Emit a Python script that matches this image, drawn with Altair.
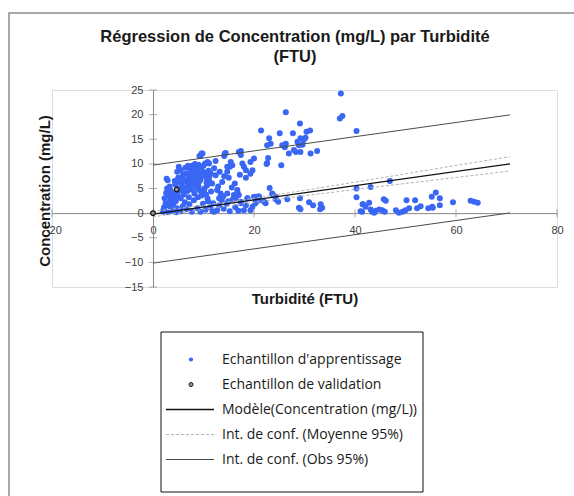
import altair as alt
import pandas as pd

# Learning sample: Turbidité (FTU) vs Concentration (mg/L)
train_x = [
    2.0, 2.2, 2.5, 2.3, 2.6, 2.8, 2.1, 3.0, 3.2, 3.4, 3.1, 3.5, 3.3, 2.9, 3.8, 4.0, 4.2, 3.9, 4.4, 4.6,
    4.8, 4.5, 5.0, 4.9, 2.7,
    5.1, 5.5, 4.8, 5.3, 5.8, 6.0, 6.2, 6.5, 6.8, 7.0, 7.2, 7.5, 7.8, 8.0, 8.2, 8.4, 8.6, 8.8, 9.0, 9.2,
    9.4, 9.6, 9.8, 10.0, 10.2, 10.4, 10.6, 10.8, 11.1, 10.3, 9.6, 9.2, 9.8, 9.4, 6.4, 7.3, 8.3, 7.6, 6.1, 5.6,
    9.0, 10.6, 11.0, 8.9, 7.1,
    3.6, 4.1, 4.7, 5.2, 5.7, 6.3, 6.9, 7.4, 7.9, 8.5, 9.1, 9.7, 10.1, 10.7, 11.2,
    3.0, 3.7, 4.3, 5.5, 6.6, 7.6, 8.7, 9.3, 10.5, 6.0, 6.9, 7.7, 8.4, 9.5, 5.0,
    5.4, 5.9, 6.3, 6.7, 7.2, 7.7, 8.1, 8.8, 9.4, 9.9, 10.4, 10.9, 11.3, 11.8, 12.1, 12.7, 13.1, 13.6, 14.0,
    14.6, 15.2, 15.8, 16.3, 16.9, 17.4, 18.0, 18.4, 18.7, 19.3, 19.7, 20.3, 21.0,
    12.1, 11.4, 12.4, 11.1, 11.7, 12.4, 14.2, 14.1, 14.4, 17.0, 17.4, 17.4, 15.4, 15.7, 15.2, 14.7, 19.3,
    17.7, 18.0, 18.4, 19.3, 18.4, 19.7, 14.7, 14.1, 15.0, 13.7, 12.7, 13.4, 13.1, 14.7, 16.0, 16.7, 16.4,
    17.4, 18.7, 20.0, 16.7, 17.0, 20.0, 11.5, 12.9, 13.2, 16.2, 17.2, 15.6, 10.8, 11.9, 13.9, 14.9,
    21.4, 23.0, 22.6, 23.3, 22.8, 22.6, 22.5, 23.6, 24.3, 22.0, 23.1, 23.8, 24.8, 22.3, 20.8,
    37.2, 37.5, 37.0, 26.3, 29.1, 40.3, 25.1, 27.7, 30.4, 31.1, 29.2, 29.8, 30.2, 28.6, 28.9, 29.6,
    25.6, 26.3, 26.1, 26.9, 27.9, 28.3, 29.2, 31.2, 32.5, 25.4,
    21.0, 20.3, 24.3, 26.6, 29.1, 28.9, 29.2, 30.9, 31.7, 33.2, 33.5, 33.1,
    40.3, 40.3, 41.5, 41.1, 46.9, 43.1, 41.6, 42.8, 42.1, 41.4, 43.1, 43.4, 44.1, 44.8, 43.8, 45.4, 45.9,
    45.7, 46.1, 48.1, 48.7, 49.4, 50.0, 50.7, 50.2, 51.9, 52.3, 53.0, 54.5, 55.3, 55.2, 56.0, 56.8, 56.8,
    59.4, 62.9, 63.6, 64.3, 55.4,
]
train_y = [
    0.3, 1.2, 2.0, 3.0, 4.1, 5.0, 0.8, 0.2, 1.5, 2.6, 3.6, 4.6, 5.4, 6.7, 0.5, 1.8, 3.0, 4.0, 5.8, 0.2,
    1.0, 2.4, 3.4, 4.4, 7.0,
    9.4, 8.7, 8.4, 6.2, 7.4, 5.2, 6.6, 8.0, 4.5, 7.0, 5.8, 6.4, 8.6, 7.4, 4.0, 6.0, 9.0, 7.8, 5.4, 8.4,
    6.8, 3.6, 7.6, 9.6, 5.0, 8.2, 6.2, 10.4, 10.1, 10.1, 12.1, 11.6, 12.1, 11.6, 9.2, 8.9, 10.0, 4.8, 3.8, 4.6,
    9.8, 7.2, 8.6, 3.2, 3.2,
    1.0, 2.2, 3.8, 5.0, 6.0, 4.8, 6.0, 7.8, 5.8, 7.0, 6.3, 8.6, 4.3, 5.6, 7.6,
    4.2, 3.3, 6.5, 3.0, 5.0, 7.0, 5.0, 4.6, 3.8, 7.8, 9.6, 9.6, 8.0, 9.0, 7.2,
    0.4, 1.4, 2.2, 0.8, 1.8, 0.3, 2.6, 1.0, 0.3, 1.9, 0.7, 2.4, 1.2, 0.4, 0.3, 0.6, 1.6, 2.6, 0.9,
    1.9, 0.4, 2.8, 1.2, 0.5, 2.0, 0.6, 1.6, 3.0, 0.6, 1.3, 2.0, 2.6,
    9.1, 8.1, 7.7, 6.7, 6.0, 10.6, 12.1, 11.6, 12.2, 12.4, 11.8, 12.6, 10.4, 9.7, 9.4, 9.4, 10.4,
    10.1, 9.4, 8.7, 8.0, 7.2, 8.7, 8.4, 7.5, 7.2, 6.3, 4.7, 4.0, 3.0, 4.0, 3.7, 4.7, 3.0,
    2.3, 3.0, 3.3, 4.3, 3.7, 11.1, 4.4, 5.4, 8.4, 6.0, 7.8, 5.2, 3.0, 2.0, 3.4, 2.4,
    16.8, 15.2, 13.8, 14.1, 11.2, 10.2, 10.0, 4.0, 3.3, 2.3, 5.1, 3.7, 2.3, 2.0, 3.4,
    24.3, 19.7, 19.2, 20.5, 18.2, 16.7, 16.2, 16.2, 16.5, 16.8, 15.2, 14.8, 15.3, 14.5, 13.8, 13.9,
    13.8, 14.1, 13.4, 12.1, 12.8, 12.4, 12.4, 12.1, 12.6, 9.7,
    3.4, 2.6, 2.8, 2.8, 3.0, 1.1, 0.8, 2.2, 1.6, 1.8, 1.1, 0.8,
    5.0, 3.2, 1.8, 0.4, 6.5, 5.3, 1.8, 2.1, 1.3, 0.3, 0.75, 0.3, 0.5, 0.75, 0.1, 0.6, 0.3,
    2.8, 2.5, 0.6, 0.1, 0.3, 0.6, 1.0, 2.6, 2.6, 1.0, 1.4, 1.0, 1.3, 3.3, 4.2, 3.0, 1.6,
    2.2, 2.5, 2.3, 2.1, 1.1,
]

# Validation sample
valid_x = [0.0, 4.7]
valid_y = [0.0, 4.8]

# Fitted model and 95% observation interval (straight lines)
line_x = [0.0, 70.7]
model_y = [-0.2, 10.0]
obs_lo = [-10.15, 0.05]
obs_hi = [9.75, 19.95]

# 95% confidence interval on the mean
mean_x = [0, 10, 20, 30, 40, 50, 60, 70.7]
mean_lo = [-0.75, 0.74, 2.20, 3.53, 4.79, 6.02, 7.24, 8.55]
mean_hi = [0.35, 1.58, 3.04, 4.63, 6.29, 7.98, 9.68, 11.45]

x_ticks = [-20, 0, 20, 40, 60, 80]
y_ticks = [-15, -10, -5, 0, 5, 10, 15, 20, 25]

title_lines = ["Régression de Concentration (mg/L) par Turbidité", "(FTU)"]

legend_labels = [
    "Echantillon d'apprentissage",
    "Echantillon de validation",
    "Modèle(Concentration (mg/L))",
    "Int. de conf. (Moyenne 95%)",
    "Int. de conf. (Obs 95%)",
]

W, H = 505, 197
AXIS_GRAY = "#868686"
BLUE = "#3a66f4"

x_scale = alt.Scale(domain=[-20, 80], nice=False, zero=False)
y_scale = alt.Scale(domain=[-15, 25], nice=False, zero=False)

x_axis = alt.Axis(
    values=x_ticks, offset=-H * 15 / 40, ticks=False, grid=False,
    domainColor=AXIS_GRAY, labelColor="#404040", labelFont="Liberation Sans",
    labelFontSize=11, labelPadding=11, labelFlush=False,
    title="Turbidité (FTU)", titleFont="Liberation Sans", titleFontSize=15,
    titleFontWeight="bold", titleColor="#1a1a1a", titleY=78, titleBaseline="top",
)
y_axis = alt.Axis(
    values=y_ticks, offset=-W * 20 / 100, ticks=False, grid=False,
    domainColor=AXIS_GRAY, labelColor="#404040", labelFont="Liberation Sans",
    labelFontSize=11, labelPadding=10, labelFlush=False,
    title="Concentration (mg/L)", titleFont="Liberation Sans", titleFontSize=15,
    titleFontWeight="bold", titleColor="#1a1a1a", titleX=-109, titleY=H / 2 + 2,
    titleBaseline="middle", titleAlign="center", titleAngle=270,
)

X = alt.X("x:Q", scale=x_scale, axis=x_axis)
Y = alt.Y("y:Q", scale=y_scale, axis=y_axis)

train_df = pd.DataFrame({"x": train_x, "y": train_y})
valid_df = pd.DataFrame({"x": valid_x, "y": valid_y})
model_df = pd.DataFrame({"x": line_x, "y": model_y})
obs_lo_df = pd.DataFrame({"x": line_x, "y": obs_lo})
obs_hi_df = pd.DataFrame({"x": line_x, "y": obs_hi})
mean_lo_df = pd.DataFrame({"x": mean_x, "y": mean_lo})
mean_hi_df = pd.DataFrame({"x": mean_x, "y": mean_hi})
xt_df = pd.DataFrame({"x": x_ticks, "y": [0] * len(x_ticks)})
yt_df = pd.DataFrame({"x": [0] * len(y_ticks), "y": y_ticks})

one = pd.DataFrame({"k": [0]})

# Outer chart frame
frame = alt.Chart(one).mark_rect(
    fillOpacity=0, stroke="#8c8c8c", strokeWidth=1.5
).encode(x=alt.value(-43), x2=alt.value(W + 60), y=alt.value(-77), y2=alt.value(H + 260))

# Two-line chart title
title_style = dict(font="Liberation Sans", fontSize=16.5, fontWeight="bold",
                   color="#1a1a1a", align="center", baseline="middle")
title1 = alt.Chart(one).mark_text(text=title_lines[0], **title_style).encode(
    x=alt.value(243), y=alt.value(-53))
title2 = alt.Chart(one).mark_text(text=title_lines[1], **title_style).encode(
    x=alt.value(243), y=alt.value(-33))

points = alt.Chart(train_df).mark_circle(size=36, color=BLUE, opacity=1).encode(x=X, y=Y)

def line(df, **style):
    return alt.Chart(df).mark_line(**style).encode(x=X, y=Y)

lines = [
    line(mean_lo_df, color="#b4b4b4", strokeWidth=1, strokeDash=[3, 2]),
    line(mean_hi_df, color="#b4b4b4", strokeWidth=1, strokeDash=[3, 2]),
    line(obs_lo_df, color="#4a4a4a", strokeWidth=1),
    line(obs_hi_df, color="#4a4a4a", strokeWidth=1),
    line(model_df, color="#111111", strokeWidth=1.4),
]

# Cross ticks on the axes
x_cross = alt.Chart(xt_df).mark_tick(orient="vertical", size=8, thickness=1, color=AXIS_GRAY).encode(x=X, y=Y)
y_cross = alt.Chart(yt_df).mark_tick(orient="horizontal", size=8, thickness=1, color=AXIS_GRAY).encode(x=X, y=Y)

valid = alt.Chart(valid_df).mark_point(
    size=22, filled=True, fill="#9a9a9a", stroke="#111111", strokeWidth=1.2, opacity=1
).encode(x=X, y=Y)

main = alt.layer(points, *lines, x_cross, y_cross, valid)

# Legend box below the plot
leg_df = pd.DataFrame({"label": legend_labels})
LY = alt.Y("label:N", scale=alt.Scale(type="point", domain=legend_labels, range=[257, 382]), axis=None)

leg_box = alt.Chart(one).mark_rect(
    fillOpacity=0, stroke="#111111", strokeWidth=1
).encode(x=alt.value(109), x2=alt.value(371), y=alt.value(242), y2=alt.value(402))

def leg_row(i):
    return alt.Chart(leg_df).transform_filter(alt.datum.label == legend_labels[i])

leg_train = leg_row(0).mark_circle(size=18, color=BLUE, opacity=1).encode(x=alt.value(139), y=LY)
leg_valid = leg_row(1).mark_point(
    size=16, filled=True, fill="#9a9a9a", stroke="#111111", strokeWidth=1, opacity=1
).encode(x=alt.value(139), y=LY)
leg_model = leg_row(2).mark_rule(color="#111111", strokeWidth=1.4).encode(
    x=alt.value(114), x2=alt.value(162), y=LY)
leg_mean = leg_row(3).mark_rule(color="#b4b4b4", strokeWidth=1, strokeDash=[3, 2]).encode(
    x=alt.value(114), x2=alt.value(162), y=LY)
leg_obs = leg_row(4).mark_rule(color="#4a4a4a", strokeWidth=1).encode(
    x=alt.value(114), x2=alt.value(162), y=LY)
leg_text = alt.Chart(leg_df).mark_text(
    align="left", baseline="middle", font="Open Sans", fontSize=14, color="#1a1a1a"
).encode(x=alt.value(170), y=LY, text="label:N")

legend = alt.layer(leg_box, leg_train, leg_valid, leg_model, leg_mean, leg_obs, leg_text)

chart = alt.layer(frame, title1, title2, main, legend).resolve_scale(y="independent").properties(
    width=W,
    height=H,
    autosize=alt.AutoSizeParams(type="none"),
    padding={"left": 52, "top": 90, "right": 17, "bottom": 209},
).configure_view(stroke="#c4c4c4", strokeWidth=1).configure(background="white")

chart.save("out.html", embed_options={"renderer": "svg", "actions": False})
